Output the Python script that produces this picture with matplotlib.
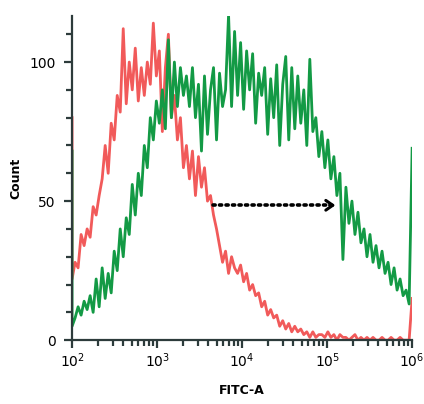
import numpy as np
import matplotlib
matplotlib.use('Agg')
import matplotlib.pyplot as plt
from matplotlib.ticker import LogLocator, FixedLocator, MultipleLocator, NullFormatter

# histogram counts, bins evenly spaced on log scale 1e2..1e6
red_counts = [22, 28, 26, 38, 34, 40, 37, 48, 45, 52, 58, 70, 60, 78, 72, 88, 82, 112, 85, 100,
              90, 105, 86, 98, 88, 100, 92, 114, 95, 104, 75, 98, 110, 80, 88, 72, 80, 62, 70, 58,
              68, 52, 66, 55, 62, 50, 52, 45, 40, 34, 28, 32, 24, 30, 26, 24, 27, 21, 24, 18,
              20, 16, 17, 12, 14, 9, 11, 8, 9, 5, 7, 4, 6, 3, 5, 3, 4, 2, 3, 1,
              3, 1, 2, 2, 1, 3, 1, 2, 0, 2, 1, 1, 0, 1, 2, 0, 1, 0, 1, 0,
              1, 0, 0, 1, 0, 0, 1, 0, 0, 1, 0, 0, 0, 15]
green_counts = [5, 8, 12, 9, 14, 11, 16, 10, 22, 12, 26, 15, 24, 17, 32, 25, 40, 30, 44, 38,
                56, 45, 60, 52, 70, 62, 80, 72, 86, 78, 90, 76, 108, 80, 100, 84, 98, 88, 95, 84,
                98, 80, 92, 68, 95, 74, 90, 98, 72, 96, 84, 90, 117, 84, 111, 88, 107, 83, 104, 90,
                103, 78, 96, 88, 98, 74, 94, 80, 99, 70, 92, 102, 72, 98, 76, 95, 78, 90, 70, 101,
                75, 80, 66, 75, 62, 72, 58, 66, 52, 60, 29, 55, 42, 50, 38, 46, 35, 40, 30, 38,
                28, 34, 26, 32, 24, 28, 20, 26, 18, 22, 16, 18, 13, 69]
red_first = 80
green_first = 68

bins = np.logspace(2, 6, len(red_counts))

fig = plt.figure(figsize=(4.24, 4.04), dpi=100)
ax = fig.add_axes([0.170, 0.158, 0.802, 0.802])

ax.plot(np.r_[bins[0], bins], [red_first] + red_counts, color='#f04848', lw=2.0, alpha=0.9)
ax.plot(np.r_[bins[0], bins], [green_first] + green_counts, color='#139a45', lw=2.0)

# dotted arrow
ax.plot([4600, 1.1e5], [48.5, 48.5], color='black', ls=(0, (0.6, 1.2)), lw=2.6,
        dash_capstyle='round')
ax.annotate('', xy=(1.35e5, 48.5), xytext=(1.0e5, 48.5),
            arrowprops=dict(arrowstyle='->,head_length=0.5,head_width=0.35', color='black', lw=2.2))

ax.set_xscale('log')
ax.set_xlim(100, 1e6)
ax.set_ylim(0, 116.5)
for s in ['top', 'right']:
    ax.spines[s].set_visible(False)
for s in ['left', 'bottom']:
    ax.spines[s].set_color('#2d3b3b')
    ax.spines[s].set_linewidth(1.6)

ax.xaxis.set_major_locator(FixedLocator([1e2, 1e3, 1e4, 1e5, 1e6]))
ax.xaxis.set_minor_locator(LogLocator(base=10, subs=np.arange(2, 10), numticks=20))
ax.xaxis.set_minor_formatter(NullFormatter())
ax.set_xticklabels([r'$10^2$', r'$10^3$', r'$10^4$', r'$10^5$', r'$10^6$'])
ax.yaxis.set_major_locator(FixedLocator([0, 50, 100]))
ax.yaxis.set_minor_locator(MultipleLocator(10))
ax.tick_params(axis='both', which='major', direction='out', length=6, width=1.6,
               color='#2d3b3b', labelsize=10)
ax.tick_params(axis='both', which='minor', direction='out', length=4, width=1.6,
               color='#2d3b3b')
ax.tick_params(axis='y', pad=6)
ax.tick_params(axis='x', pad=2)

ax.set_ylabel('Count', fontsize=9, fontweight='bold', labelpad=5)
ax.set_xlabel('FITC-A', fontsize=9, fontweight='bold', labelpad=10)

plt.savefig('out.png', dpi=100)
